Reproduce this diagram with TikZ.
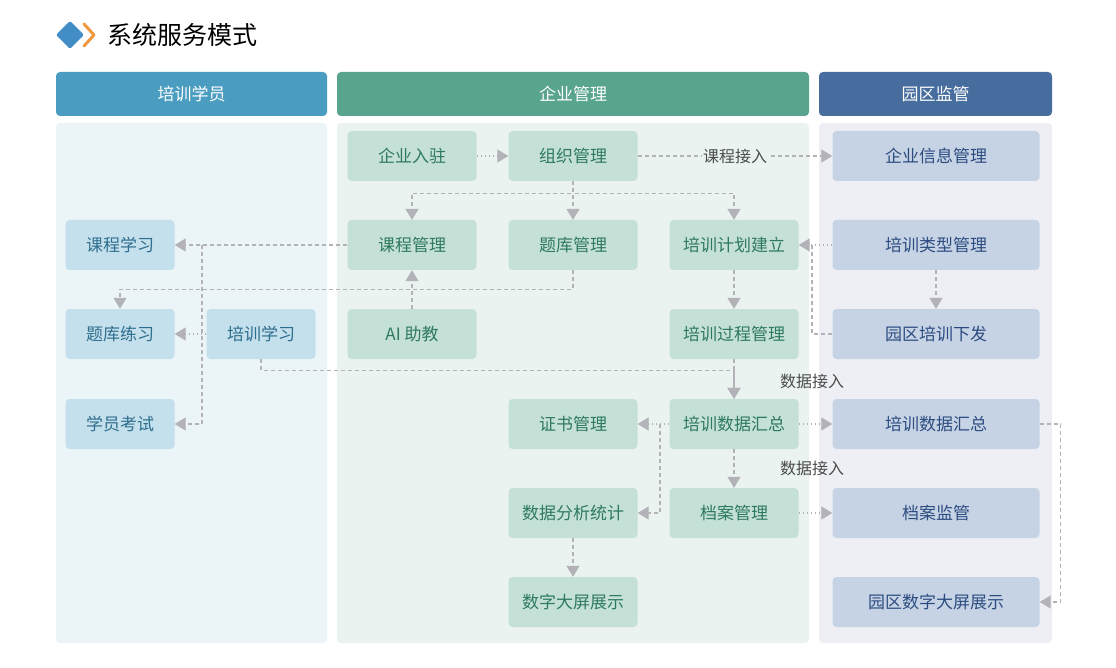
\documentclass[tikz,border=0pt]{standalone}
\usepackage{fontspec}
\setmainfont{Noto Sans CJK SC}
\usetikzlibrary{arrows.meta}
\usetikzlibrary{positioning}
\definecolor{stuHead}{HTML}{4A9CC0}
\definecolor{entHead}{HTML}{58A48F}
\definecolor{parkHead}{HTML}{466D9D}
\definecolor{stuBg}{HTML}{EBF4F7}
\definecolor{entBg}{HTML}{EAF3F0}
\definecolor{parkBg}{HTML}{EEEFF4}
\definecolor{stuBox}{HTML}{C4E0EC}
\definecolor{entBox}{HTML}{C5E0D7}
\definecolor{parkBox}{HTML}{C6D3E5}
\definecolor{stuText}{HTML}{2E6E8E}
\definecolor{entText}{HTML}{2E7A5E}
\definecolor{parkText}{HTML}{2C4C80}
\definecolor{linkGray}{HTML}{B2B2B8}

\tikzset{
	box/.style={rectangle, rounded corners=4pt, inner sep=0pt, minimum height=50pt, font=\fontsize{17}{20}\selectfont},
	stu/.style={box, fill=stuBox, text=stuText, minimum width=109pt},
	ent/.style={box, fill=entBox, text=entText, minimum width=129pt},
	park/.style={box, fill=parkBox, text=parkText, minimum width=207pt},
	head/.style={rectangle, rounded corners=4pt, inner sep=0pt, minimum height=44pt, text=white, font=\fontsize{17}{20}\selectfont},
	link/.style={draw=linkGray, line width=1.2pt, dash pattern=on 4pt off 3pt, -{Triangle[length=11pt, width=13pt]}},
	dotlink/.style={link, dash pattern=on 1.5pt off 2.5pt},
	lbl/.style={fill=none, text=black!70, font=\fontsize{16}{19}\selectfont, inner sep=1pt}
}

\begin{document}
\begin{tikzpicture}[x=1pt, y=-1pt]
	\useasboundingbox (0,0) rectangle (1116,668);

	% title
	\fill[stuHead!90!blue, rounded corners=2pt] (70,21) -- (84,35) -- (70,49) -- (56,35) -- cycle;
	\draw[orange!70!brown!80, line width=3pt, line cap=round, line join=round] (84,24) -- (94,35) -- (84,46);
	\node[anchor=west, inner sep=0pt, font=\fontsize{25}{28}\selectfont] (title) at (107,35) {系统服务模式};

	% columns
	\node[head, fill=stuHead, minimum width=271pt] (hStu) at (191.5,94) {培训学员};
	\node[head, fill=entHead, minimum width=472pt] (hEnt) at (573,94) {企业管理};
	\node[head, fill=parkHead, minimum width=233pt] (hPark) at (935.5,94) {园区监管};
	\fill[stuBg, rounded corners=4pt] (56,123) rectangle (327,643);
	\fill[entBg, rounded corners=4pt] (337,123) rectangle (809,643);
	\fill[parkBg, rounded corners=4pt] (819,123) rectangle (1052,643);

	% students
	\node[stu] (kx) at (120,245) {课程学习};
	\node[stu] (tl) at (120,334) {题库练习};
	\node[stu] (ks) at (120,424) {学员考试};
	\node[stu] (px) at (261,334) {培训学习};

	% enterprise
	\node[ent] (rz) at (412,156) {企业入驻};
	\node[ent] (zz) at (573,156) {组织管理};
	\node[ent] (kc) at (412,245) {课程管理};
	\node[ent] (tk) at (573,245) {题库管理};
	\node[ent] (jh) at (734,245) {培训计划建立};
	\node[ent] (ai) at (412,334) {AI 助教};
	\node[ent] (gc) at (734,334) {培训过程管理};
	\node[ent] (zs) at (573,424) {证书管理};
	\node[ent] (hz) at (734,424) {培训数据汇总};
	\node[ent] (fx) at (573,513) {数据分析统计};
	\node[ent] (da) at (734,513) {档案管理};
	\node[ent] (dp) at (573,602) {数字大屏展示};

	% park
	\node[park] (xx) at (936,156) {企业信息管理};
	\node[park] (lx) at (936,245) {培训类型管理};
	\node[park] (xf) at (936,334) {园区培训下发};
	\node[park] (hz2) at (936,424) {培训数据汇总};
	\node[park] (jg) at (936,513) {档案监管};
	\node[park] (dp2) at (936,602) {园区数字大屏展示};

	\coordinate (b1) at (202,245);
	\coordinate (b2) at (812,245);
	\coordinate (b3) at (660,424);

	% links
	\draw[dotlink] (rz) -- (zz);
	\draw[link] (zz) -- node[lbl, fill=entBg] (lb1) {课程接入} (xx);
	\draw[link] (zz.south) -- (tk.north);
	\draw[link] (zz.south) -- ++(0,12) -| (kc.north);
	\draw[link] (zz.south) -- ++(0,12) -| (jh.north);
	\draw[link] (kc) -- (kx);
	\draw[link] (b1) |- (ks.east);
	\draw[link] (tk.south) -- ++(0,19) -| (tl.north);
	\draw[link] (ai) -- (kc);
	\draw[dotlink] (px) -- (tl);
	\draw[link] (px.south) -- ++(0,11) -| (hz.north);
	\draw[link] (gc) -- (hz);
	\draw[dotlink] (lx) -- (jh);
	\draw[link, -] (xf.west) -| (b2);
	\draw[link] (lx) -- (xf);
	\draw[link] (jh) -- (gc);
	\draw[dotlink] (hz) -- (hz2);
	\draw[dotlink] (hz) -- (zs);
	\draw[link] (b3) |- (fx.east);
	\draw[link] (hz) -- (da);
	\draw[dotlink] (da) -- (jg);
	\draw[link] (fx) -- (dp);
	\draw[link] (hz2.east) -- ++(21,0) |- (dp2.east);

	\node[lbl] (lb2) at (812,381) {数据接入};
	\node[lbl] (lb3) at (812,468) {数据接入};
\end{tikzpicture}
\end{document}
